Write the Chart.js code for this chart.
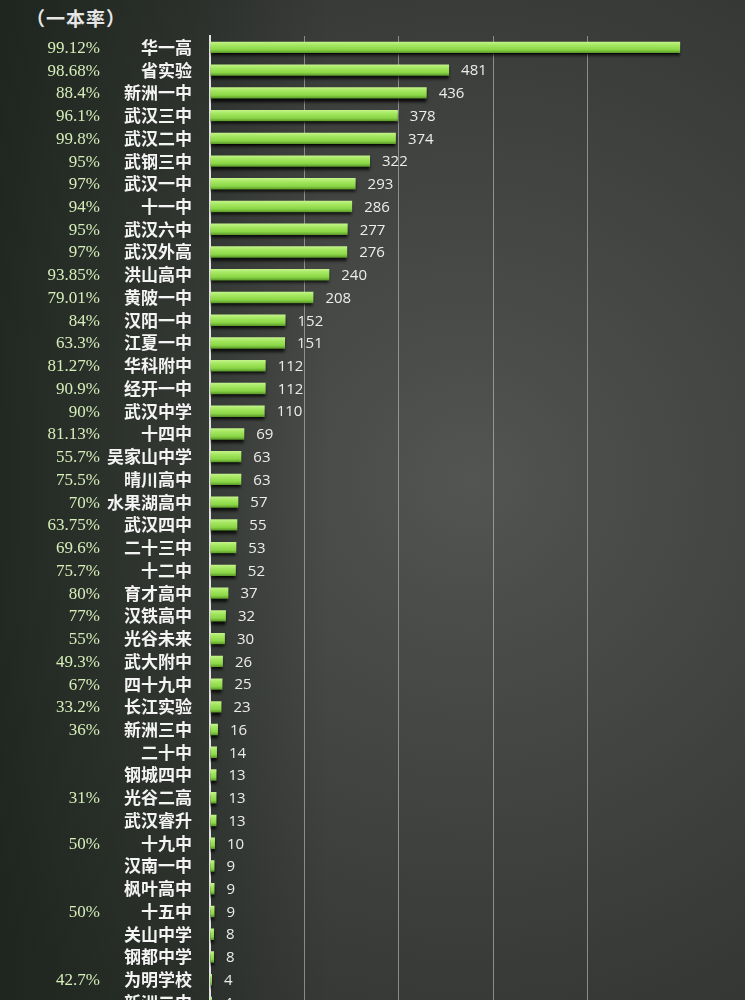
<!DOCTYPE html>
<html>
<head>
<meta charset="utf-8">
<script src="https://cdn.jsdelivr.net/npm/chart.js@4.4.0/dist/chart.umd.min.js"></script>
<style>
  html, body { margin: 0; padding: 0; }
  body {
    width: 745px;
    height: 1000px;
    overflow: hidden;
    position: relative;
    background:
      linear-gradient(90deg, rgba(18, 28, 18, 0.6) 0, rgba(20, 30, 20, 0.3) 200px, rgba(0, 0, 0, 0) 330px),
      radial-gradient(circle at 470px 480px, #535553 0, #4b4d4b 130px, #444644 270px, #3c3e3c 430px, #323432 640px);
  }
  .title {
    position: absolute;
    left: 26px;
    top: 4px;
    font-family: "Noto Sans CJK SC", sans-serif;
    font-weight: bold;
    font-size: 19px;
    color: #e6e6e6;
    letter-spacing: 1px;
  }
  .wrap { position: absolute; left: 0; top: 0; width: 745px; height: 1034px; }
</style>
</head>
<body>
<div class="title">（一本率）</div>
<div class="wrap"><canvas id="myChart"></canvas></div>
<script>
// schools, top to bottom
const schools = ['华一高', '省实验', '新洲一中', '武汉三中', '武汉二中', '武钢三中', '武汉一中', '十一中',
  '武汉六中', '武汉外高', '洪山高中', '黄陂一中', '汉阳一中', '江夏一中', '华科附中', '经开一中',
  '武汉中学', '十四中', '吴家山中学', '晴川高中', '水果湖高中', '武汉四中', '二十三中', '十二中',
  '育才高中', '汉铁高中', '光谷未来', '武大附中', '四十九中', '长江实验', '新洲三中', '二十中',
  '钢城四中', '光谷二高', '武汉睿升', '十九中', '汉南一中', '枫叶高中', '十五中', '关山中学',
  '钢都中学', '为明学校', '新洲二中'];

// number of students (first bar has no readable label, estimated from its length)
const counts = [946, 481, 436, 378, 374, 322, 293, 286, 277, 276, 240, 208, 152, 151, 112, 112,
  110, 69, 63, 63, 57, 55, 53, 52, 37, 32, 30, 26, 25, 23, 16, 14,
  13, 13, 13, 10, 9, 9, 9, 8, 8, 4, 4];

// 一本率
const rates = ['99.12%', '98.68%', '88.4%', '96.1%', '99.8%', '95%', '97%', '94%',
  '95%', '97%', '93.85%', '79.01%', '84%', '63.3%', '81.27%', '90.9%',
  '90%', '81.13%', '55.7%', '75.5%', '70%', '63.75%', '69.6%', '75.7%',
  '80%', '77%', '55%', '49.3%', '67%', '33.2%', '36%', '',
  '', '31%', '', '50%', '', '', '50%', '',
  '', '42.7%', ''];

const barShadow = {
  id: 'barShadow',
  beforeDatasetsDraw(chart) {
    const c = chart.ctx;
    c.save();
    c.shadowColor = 'rgba(0, 0, 0, 0.85)';
    c.shadowOffsetY = 3;
    c.shadowBlur = 3;
  },
  afterDatasetsDraw(chart) {
    chart.ctx.restore();
  },
};

const sideLabels = {
  id: 'sideLabels',
  afterDraw(chart) {
    const c = chart.ctx;
    const yScale = chart.scales.y;
    const area = chart.chartArea;
    c.save();
    c.textBaseline = 'middle';
    // rates on the far left
    c.font = '17px "Liberation Serif", serif';
    c.fillStyle = '#d6eeb8';
    c.textAlign = 'right';
    rates.forEach((r, i) => {
      if (r) c.fillText(r, area.left - 110, yScale.getPixelForValue(i) + 1);
    });
    // value labels at bar ends
    c.font = '15px "Open Sans", sans-serif';
    c.fillStyle = '#ececec';
    c.textAlign = 'left';
    const meta = chart.getDatasetMeta(0);
    meta.data.forEach((bar, i) => {
      const txt = String(counts[i]);
      const x = bar.x + 12;
      if (x + c.measureText(txt).width > area.right) return;
      c.fillText(txt, x, bar.y + 1);
    });
    c.restore();
  },
};

const ctx = document.getElementById('myChart').getContext('2d');
const myChart = new Chart(ctx, {
  type: 'bar',
  data: {
    labels: schools,
    datasets: [
      {
        data: counts,
        label: '人数',
        backgroundColor: (context) => {
          const chart = context.chart;
          if (!chart.chartArea || !chart.scales.y) return '#8fd850';
          const y = chart.scales.y.getPixelForValue(context.dataIndex);
          const g = chart.ctx.createLinearGradient(0, y - 6, 0, y + 6);
          g.addColorStop(0, '#c8f590');
          g.addColorStop(0.3, '#a6e862');
          g.addColorStop(0.7, '#8ad646');
          g.addColorStop(1, '#548f26');
          return g;
        },
        borderWidth: 0,
        barPercentage: 0.5,
        categoryPercentage: 1,
      },
    ],
  },
  options: {
    indexAxis: 'y',
    responsive: true,
    maintainAspectRatio: false,
    animation: false,
    layout: { padding: { top: 36, bottom: 8, left: 0, right: 38 } },
    plugins: {
      legend: { display: false },
      tooltip: { enabled: false },
    },
    scales: {
      x: {
        min: 0,
        max: 1000,
        ticks: { display: false, stepSize: 190 },
        grid: {
          color: (c) => (c.tick && c.tick.value === 1000 ? 'rgba(0,0,0,0)' : 'rgba(205, 205, 205, 0.55)'),
          lineWidth: 1,
          drawTicks: false,
        },
        border: { display: false },
      },
      y: {
        afterFit: (scale) => { scale.width = 210; },
        ticks: {
          autoSkip: false,
          color: '#f4f4f4',
          padding: 10,
          font: { family: '"Noto Sans CJK SC", sans-serif', size: 17, weight: 'bold' },
        },
        grid: { display: false },
        border: { color: '#e2e2e2', width: 2 },
      },
    },
  },
  plugins: [barShadow, sideLabels],
});
</script>
</body>
</html>
